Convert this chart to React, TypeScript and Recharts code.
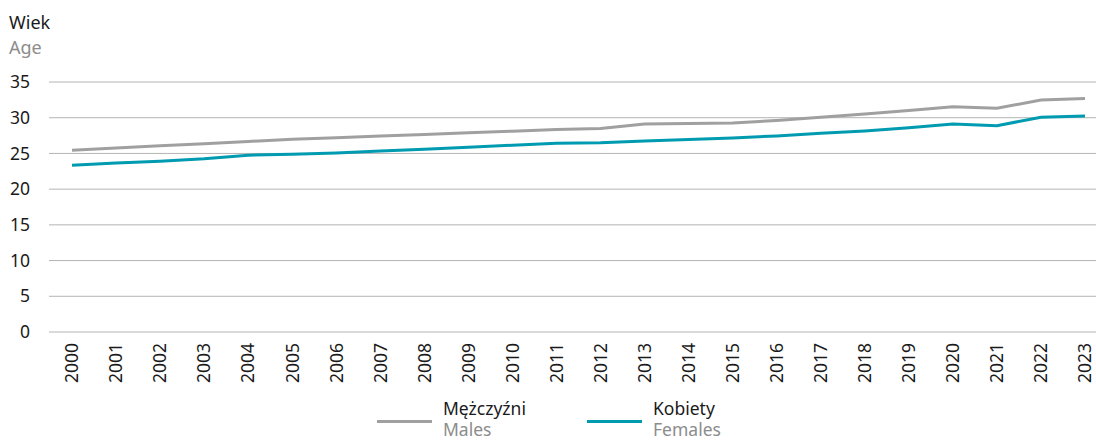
import React from 'react';
import { LineChart, Line, XAxis, YAxis, CartesianGrid } from 'recharts';

const years = ['2000','2001','2002','2003','2004','2005','2006','2007','2008','2009','2010','2011','2012','2013','2014','2015','2016','2017','2018','2019','2020','2021','2022','2023'];
const males = [25.43, 25.75, 26.07, 26.36, 26.67, 26.97, 27.21, 27.44, 27.66, 27.9, 28.12, 28.35, 28.5, 29.13, 29.2, 29.27, 29.6, 30.06, 30.53, 31.0, 31.55, 31.32, 32.49, 32.68];
const females = [23.33, 23.65, 23.9, 24.25, 24.75, 24.9, 25.05, 25.33, 25.6, 25.88, 26.15, 26.41, 26.51, 26.75, 26.96, 27.17, 27.45, 27.82, 28.15, 28.61, 29.13, 28.89, 30.06, 30.25];
const yTicks = [0, 5, 10, 15, 20, 25, 30, 35];

const seriesMeta = [
  { key: 'males', pl: 'Mężczyźni', en: 'Males', color: '#a0a0a0' },
  { key: 'females', pl: 'Kobiety', en: 'Females', color: '#009bb0' },
];

const data = years.map((y, i) => ({ year: y, males: males[i], females: females[i] }));

const FONT = '"Noto Sans", "Open Sans", sans-serif';

const XTick = (props: any) => {
  const { x, y, payload } = props;
  return (
    <text
      x={x}
      y={y}
      transform={`rotate(-90, ${x}, ${y})`}
      textAnchor="end"
      dy="0.36em"
      fontSize={17.5}
      fontFamily={FONT}
      fill="#1a1a1a"
    >
      {payload.value}
    </text>
  );
};

export default function App() {
  return (
    <div style={{ position: 'absolute', left: 0, top: 0, width: 1096, height: 440, background: '#fff', fontFamily: FONT, overflow: 'hidden' }}>
      <div style={{ position: 'absolute', left: 9, top: 10, fontSize: 18, lineHeight: '25px', color: '#1a1a1a' }}>Wiek</div>
      <div style={{ position: 'absolute', left: 9, top: 35, fontSize: 18, lineHeight: '25px', color: '#8c8c8c' }}>Age</div>
      <LineChart
        width={1096}
        height={440}
        data={data}
        margin={{ top: 82, right: 0, left: 0, bottom: 48 }}
      >
        <CartesianGrid vertical={false} stroke="#b4b4b4" strokeWidth={1} />
        <XAxis
          dataKey="year"
          scale="point"
          padding={{ left: 23, right: 11 }}
          axisLine={false}
          tickLine={false}
          tickSize={6}
          tickMargin={5}
          height={60}
          interval={0}
          tick={<XTick />}
        />
        <YAxis
          width={49}
          domain={[0, 35]}
          ticks={yTicks}
          axisLine={false}
          tickLine={false}
          tickSize={6}
          tickMargin={13}
          tick={{ fontSize: 17.5, fontFamily: FONT, fill: '#1a1a1a' }}
        />
        {seriesMeta.map((s) => (
          <Line
            key={s.key}
            type="linear"
            dataKey={s.key}
            stroke={s.color}
            strokeWidth={3}
            dot={false}
            isAnimationActive={false}
          />
        ))}
      </LineChart>
      {seriesMeta.map((s, i) => (
        <div key={s.key} style={{ position: 'absolute', left: 377 + i * 210, top: 398 }}>
          <div style={{ position: 'absolute', left: 0, top: 22, width: 55, height: 3, background: s.color }} />
          <div style={{ position: 'absolute', left: 66, top: 0, fontSize: 17.5, lineHeight: '21px', color: '#1a1a1a', whiteSpace: 'nowrap' }}>{s.pl}</div>
          <div style={{ position: 'absolute', left: 66, top: 21, fontSize: 17.5, lineHeight: '20px', color: '#8c8c8c', whiteSpace: 'nowrap' }}>{s.en}</div>
        </div>
      ))}
    </div>
  );
}
